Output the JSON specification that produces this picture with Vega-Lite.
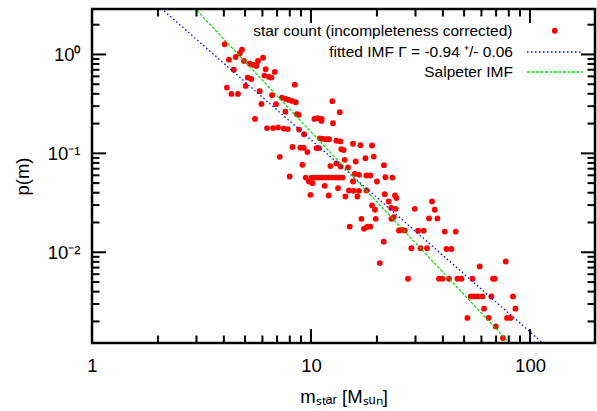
{
  "$schema": "https://vega.github.io/schema/vega-lite/v6.json",
  "width": 503,
  "height": 334,
  "autosize": {"type": "none"},
  "padding": {"left": 92, "top": 9, "right": 2, "bottom": 68},
  "background": "white",
  "config": {
    "font": "Liberation Sans",
    "view": {"stroke": "black", "strokeWidth": 2.5},
    "axis": {
      "domain": false, "grid": false, "ticks": false,
      "labelColor": "black", "labelFont": "Liberation Sans", "labelFontSize": 18.5,
      "titleFont": "Liberation Sans", "titleFontSize": 18.5, "titleColor": "black", "titleFontWeight": "normal",
      "labelFlush": false, "labelOverlap": false, "labelBound": false
    },
    "legend": {"labelFont": "Liberation Sans", "labelFontSize": 15.5, "labelColor": "black", "labelAlign": "right", "labelLimit": 0, "padding": 0, "title": null, "orient": "none"}
  },
  "datasets": {
    "stars": [
      {"m":4.035,"p":1.268},{"m":4.84,"p":1.118},{"m":4.73,"p":1.028},{"m":4.53,"p":0.943},{"m":4.22,"p":0.886},{"m":4.94,"p":0.860},{"m":5.25,"p":0.807},{"m":5.47,"p":0.783},{"m":5.63,"p":0.765},{"m":5.73,"p":0.860},{"m":6.04,"p":0.928},{"m":6.21,"p":0.709},{"m":4.44,"p":0.702},{"m":6.83,"p":0.666},{"m":6.13,"p":0.611},{"m":6.43,"p":0.593},{"m":6.60,"p":0.583},{"m":5.14,"p":0.583},{"m":5.34,"p":0.566},{"m":4.13,"p":0.462},{"m":5.03,"p":0.481},{"m":5.83,"p":0.425},{"m":4.33,"p":0.399},{"m":4.64,"p":0.399},{"m":6.64,"p":0.387},{"m":5.94,"p":0.316},{"m":6.92,"p":0.314},{"m":5.55,"p":0.223},{"m":6.30,"p":0.180},{"m":6.71,"p":0.180},{"m":7.07,"p":0.183},
      {"m":8.43,"p":0.495},{"m":7.37,"p":0.366},{"m":7.66,"p":0.355},{"m":7.91,"p":0.347},{"m":8.19,"p":0.339},{"m":8.51,"p":0.329},{"m":12.52,"p":0.337},{"m":13.53,"p":0.261},{"m":7.64,"p":0.264},{"m":8.63,"p":0.249},{"m":8.79,"p":0.245},{"m":10.36,"p":0.223},{"m":10.73,"p":0.227},{"m":11.19,"p":0.223},{"m":11.16,"p":0.213},{"m":12.60,"p":0.202},{"m":7.51,"p":0.178},{"m":7.83,"p":0.176},{"m":8.82,"p":0.174},
      {"m":9.29,"p":0.156},{"m":10.96,"p":0.142},{"m":11.34,"p":0.140},{"m":11.76,"p":0.139},{"m":12.08,"p":0.139},{"m":13.06,"p":0.134},{"m":13.62,"p":0.132},{"m":15.55,"p":0.125},{"m":16.81,"p":0.121},{"m":18.99,"p":0.120},{"m":8.23,"p":0.116},{"m":8.94,"p":0.114},{"m":9.26,"p":0.114},{"m":10.59,"p":0.113},{"m":10.88,"p":0.113},{"m":13.76,"p":0.110},{"m":14.10,"p":0.108},{"m":9.63,"p":0.103},{"m":7.20,"p":0.0922},{"m":17.72,"p":0.0894},{"m":19.33,"p":0.0928},{"m":14.25,"p":0.0860},{"m":16.00,"p":0.0827},{"m":13.06,"p":0.0789},{"m":9.14,"p":0.0765},{"m":12.26,"p":0.0743},{"m":14.76,"p":0.0719},{"m":21.54,"p":0.0760},{"m":13.66,"p":0.0736},{"m":15.83,"p":0.0621},{"m":16.56,"p":0.0607},{"m":17.91,"p":0.0597},{"m":18.67,"p":0.0597},{"m":7.99,"p":0.0583},
      {"m":9.46,"p":0.0569},{"m":10.07,"p":0.0569},{"m":10.40,"p":0.0569},{"m":10.79,"p":0.0569},{"m":11.19,"p":0.0569},{"m":11.61,"p":0.0569},{"m":12.04,"p":0.0569},{"m":12.50,"p":0.0569},{"m":12.97,"p":0.0569},{"m":13.45,"p":0.0569},{"m":13.95,"p":0.0569},
      {"m":21.86,"p":0.0575},{"m":23.53,"p":0.0569},{"m":9.79,"p":0.0519},{"m":10.15,"p":0.0500},{"m":15.55,"p":0.0519},{"m":20.01,"p":0.0519},{"m":11.55,"p":0.0470},{"m":13.28,"p":0.0445},{"m":14.91,"p":0.0421},{"m":15.67,"p":0.0418},{"m":16.56,"p":0.0418},{"m":17.91,"p":0.0421},{"m":9.94,"p":0.0381},{"m":12.04,"p":0.0375},{"m":14.36,"p":0.0366},{"m":16.29,"p":0.0366},{"m":21.70,"p":0.0387},{"m":24.18,"p":0.0375},{"m":24.55,"p":0.0353},{"m":18.99,"p":0.0297},{"m":19.60,"p":0.0269},{"m":22.63,"p":0.0326},{"m":23.24,"p":0.0281},{"m":24.37,"p":0.0275},
      {"m":16.99,"p":0.0218},{"m":19.74,"p":0.0218},{"m":23.29,"p":0.0218},{"m":23.86,"p":0.0227},{"m":15.02,"p":0.0182},{"m":17.46,"p":0.0173},{"m":18.02,"p":0.0180},{"m":18.67,"p":0.0182},{"m":25.23,"p":0.0166},{"m":21.48,"p":0.0128},{"m":20.60,"p":0.00778},
      {"m":35.69,"p":0.0326},{"m":29.75,"p":0.0275},{"m":36.71,"p":0.0269},{"m":34.58,"p":0.0220},{"m":37.77,"p":0.0220},
      {"m":25.87,"p":0.0169},{"m":26.79,"p":0.0166},{"m":30.81,"p":0.0165},{"m":32.71,"p":0.0165},{"m":40.78,"p":0.0162},{"m":45.79,"p":0.0162},{"m":28.74,"p":0.0110},{"m":31.59,"p":0.0110},{"m":33.86,"p":0.0110},{"m":41.52,"p":0.0108},{"m":43.76,"p":0.0108},{"m":58.93,"p":0.00719},{"m":77.45,"p":0.00807},
      {"m":27.73,"p":0.0054},{"m":38.41,"p":0.0054},{"m":39.81,"p":0.0054},{"m":42.67,"p":0.0054},{"m":46.61,"p":0.0054},{"m":48.62,"p":0.0054},{"m":54.58,"p":0.0054},{"m":67.77,"p":0.0054},{"m":69.0,"p":0.0054},
      {"m":53.61,"p":0.00358},{"m":55.62,"p":0.00358},{"m":57.70,"p":0.00358},{"m":60.62,"p":0.00358},{"m":66.63,"p":0.00358},{"m":83.61,"p":0.00358},{"m":61.66,"p":0.00269},{"m":85.76,"p":0.00269},{"m":51.78,"p":0.00217},{"m":64.77,"p":0.00217},{"m":78.52,"p":0.00217},{"m":81.38,"p":0.00217},{"m":69.72,"p":0.00178},{"m":75.27,"p":0.00136}
    ],
    "fit": [{"m": 1, "p": 11.99}, {"m": 198, "p": 0.0004166}],
    "salpeter": [{"m": 1, "p": 37.34}, {"m": 198, "p": 0.0001457}],
    "xmajor": [{"m": 10}, {"m": 100}],
    "xminor": [{"m": 2}, {"m": 3}, {"m": 4}, {"m": 5}, {"m": 6}, {"m": 7}, {"m": 8}, {"m": 9}, {"m": 20}, {"m": 30}, {"m": 40}, {"m": 50}, {"m": 60}, {"m": 70}, {"m": 80}, {"m": 90}],
    "ymajor": [{"p": 0.01}, {"p": 0.1}, {"p": 1}],
    "yminor": [{"p": 0.002}, {"p": 0.003}, {"p": 0.004}, {"p": 0.005}, {"p": 0.006}, {"p": 0.007}, {"p": 0.008}, {"p": 0.009}, {"p": 0.02}, {"p": 0.03}, {"p": 0.04}, {"p": 0.05}, {"p": 0.06}, {"p": 0.07}, {"p": 0.08}, {"p": 0.09}, {"p": 0.2}, {"p": 0.3}, {"p": 0.4}, {"p": 0.5}, {"p": 0.6}, {"p": 0.7}, {"p": 0.8}, {"p": 0.9}, {"p": 2}]
  },
  "resolve": {"axis": {"x": "independent", "y": "independent"}, "scale": {"color": "independent"}},
  "layer": [
    {
      "data": {"name": "stars"},
      "mark": {"type": "circle", "size": 34, "opacity": 1},
      "encoding": {
        "x": {"field": "m", "type": "quantitative",
          "scale": {"type": "log", "domain": [1, 198], "nice": false},
          "axis": {"orient": "bottom", "values": [1, 10, 100], "format": "d", "labelPadding": 13,
            "title": "mₛₜₐᵣ [Mₛᵤₙ]", "titlePadding": 13}},
        "y": {"field": "p", "type": "quantitative",
          "scale": {"type": "log", "domain": [0.00121, 2.88], "nice": false},
          "axis": {"orient": "left", "values": [0.01, 0.1, 1], "labelPadding": 12,
            "labelExpr": "datum.value > 0.5 ? '10⁰' : datum.value > 0.05 ? '10⁻¹' : '10⁻²'",
            "title": "p(m)", "titlePadding": 15}},
        "color": {"datum": "star count (incompleteness corrected)", "type": "nominal",
          "scale": {"range": ["#ff0000"]},
          "legend": {"legendX": 455, "legendY": 14, "symbolType": "circle", "symbolSize": 34, "symbolStrokeWidth": 0, "symbolOpacity": 1, "labelOffset": -50}}
      }
    },
    {
      "data": {"name": "fit"},
      "mark": {"type": "line", "clip": true, "strokeWidth": 1.3, "strokeDash": [1.5, 2.5]},
      "encoding": {
        "x": {"field": "m", "type": "quantitative", "axis": null},
        "y": {"field": "p", "type": "quantitative", "axis": null},
        "color": {"datum": "fitted IMF Γ = -0.94 ⁺/- 0.06", "type": "nominal",
          "scale": {"range": ["#0000ff"]},
          "legend": {"legendX": 434, "legendY": 14, "symbolType": "stroke", "symbolSize": 3136, "symbolStrokeWidth": 1.3, "symbolDash": [1.5, 2.5], "labelOffset": -71}}
      }
    },
    {
      "data": {"name": "salpeter"},
      "mark": {"type": "line", "clip": true, "strokeWidth": 1.2, "strokeDash": [3, 1.5]},
      "encoding": {
        "x": {"field": "m", "type": "quantitative", "axis": null},
        "y": {"field": "p", "type": "quantitative", "axis": null},
        "color": {"datum": "Salpeter IMF", "type": "nominal",
          "scale": {"range": ["#00dd00"]},
          "legend": {"legendX": 434, "legendY": 34, "symbolType": "stroke", "symbolSize": 3136, "symbolStrokeWidth": 1.3, "symbolDash": [3, 1.5], "labelOffset": -71}}
      }
    },
    {
      "data": {"name": "xmajor"},
      "mark": {"type": "tick", "orient": "vertical", "color": "black", "opacity": 1, "thickness": 2, "size": 14, "yOffset": -7},
      "encoding": {"x": {"field": "m", "type": "quantitative", "axis": null}, "y": {"datum": 0.00121, "type": "quantitative", "axis": null}}
    },
    {
      "data": {"name": "xmajor"},
      "mark": {"type": "tick", "orient": "vertical", "color": "black", "opacity": 1, "thickness": 2, "size": 14, "yOffset": 7},
      "encoding": {"x": {"field": "m", "type": "quantitative", "axis": null}, "y": {"datum": 2.88, "type": "quantitative", "axis": null}}
    },
    {
      "data": {"name": "xminor"},
      "mark": {"type": "tick", "orient": "vertical", "color": "black", "opacity": 1, "thickness": 2, "size": 7.5, "yOffset": -3.75},
      "encoding": {"x": {"field": "m", "type": "quantitative", "axis": null}, "y": {"datum": 0.00121, "type": "quantitative", "axis": null}}
    },
    {
      "data": {"name": "xminor"},
      "mark": {"type": "tick", "orient": "vertical", "color": "black", "opacity": 1, "thickness": 2, "size": 7.5, "yOffset": 3.75},
      "encoding": {"x": {"field": "m", "type": "quantitative", "axis": null}, "y": {"datum": 2.88, "type": "quantitative", "axis": null}}
    },
    {
      "data": {"name": "ymajor"},
      "mark": {"type": "tick", "orient": "horizontal", "color": "black", "opacity": 1, "thickness": 2, "size": 14, "xOffset": 7},
      "encoding": {"y": {"field": "p", "type": "quantitative", "axis": null}, "x": {"datum": 1, "type": "quantitative", "axis": null}}
    },
    {
      "data": {"name": "ymajor"},
      "mark": {"type": "tick", "orient": "horizontal", "color": "black", "opacity": 1, "thickness": 2, "size": 14, "xOffset": -7},
      "encoding": {"y": {"field": "p", "type": "quantitative", "axis": null}, "x": {"datum": 198, "type": "quantitative", "axis": null}}
    },
    {
      "data": {"name": "yminor"},
      "mark": {"type": "tick", "orient": "horizontal", "color": "black", "opacity": 1, "thickness": 2, "size": 7.5, "xOffset": 3.75},
      "encoding": {"y": {"field": "p", "type": "quantitative", "axis": null}, "x": {"datum": 1, "type": "quantitative", "axis": null}}
    },
    {
      "data": {"name": "yminor"},
      "mark": {"type": "tick", "orient": "horizontal", "color": "black", "opacity": 1, "thickness": 2, "size": 7.5, "xOffset": -3.75},
      "encoding": {"y": {"field": "p", "type": "quantitative", "axis": null}, "x": {"datum": 198, "type": "quantitative", "axis": null}}
    }
  ]
}
